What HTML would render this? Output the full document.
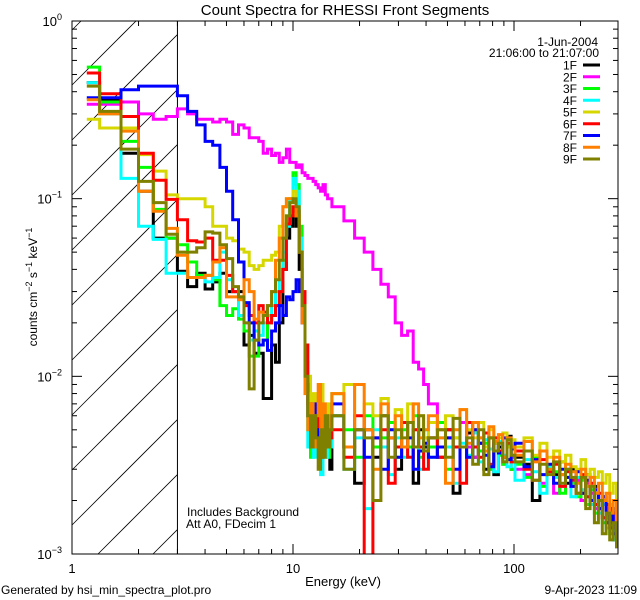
<!DOCTYPE html>
<html><head><meta charset="utf-8"><style>
body{margin:0;background:#fff;overflow:hidden;}
svg{display:block;font-family:"Liberation Sans",sans-serif;}
</style></head><body>
<svg id="chart" width="640" height="600" viewBox="0 0 640 600" xmlns="http://www.w3.org/2000/svg">
<defs><clipPath id="plotclip"><rect x="72" y="21" width="546" height="533"/></clipPath></defs>
<rect width="640" height="600" fill="#fff"/>
<text x="345" y="15" font-size="15" text-anchor="middle">Count Spectra for RHESSI Front Segments</text>
<g id="hatch"></g>
<g id="series" clip-path="url(#plotclip)"></g>
<g id="axes"></g>
<g id="legend"></g>
<text x="187" y="516" font-size="12">Includes Background</text>
<text x="186" y="528" font-size="12">Att A0, FDecim 1</text>
<text x="343" y="586" font-size="13" text-anchor="middle">Energy (keV)</text>
<text transform="translate(37,287) rotate(-90)" font-size="12" text-anchor="middle">counts cm<tspan dy="-5" font-size="9">−2</tspan><tspan dy="5"> s</tspan><tspan dy="-5" font-size="9">−1</tspan><tspan dy="5"> keV</tspan><tspan dy="-5" font-size="9">−1</tspan></text>
<text x="1" y="594" font-size="12">Generated by hsi_min_spectra_plot.pro</text>
<text x="637" y="594" font-size="12" text-anchor="end">9-Apr-2023 11:09</text>
</svg>
<script>
const seriesNames = ["1F","2F","3F","4F","5F","6F","7F","8F","9F"];
const seriesColors = ["#000000","#ff00ff","#00ff00","#00ffff","#d7d700","#ff0000","#0000ff","#ff8000","#808000"];
const xTickValues = [1,10,100];
const xTickLabels = ["1","10","100"];
const yTickExps = [0,-1,-2,-3];
const s1F = [0.45,0.36,0.18,0.11,0.06,0.06,0.039,0.032,0.038,0.031,0.034,0.038,0.03,0.03,0.03,0.015,0.017,0.0135,0.0135,0.0075,0.0075,0.015,0.012,0.02,0.04,0.06,0.07,0.08,0.07,0.04,0.025,0.012,0.008,0.006,0.0045,0.007,0.005,0.003,0.006,0.004,0.005,0.003,
0.006,0.004,0.0025,0.005,0.0035,0.006,0.0045,0.003,0.0055,0.004,0.0025,0.005,0.004,0.0045,0.0035,0.005,0.0022,0.004,0.0048,0.0035,0.0042,0.003,0.0045,0.0028,0.004,0.0035,0.0046,0.003,0.0035,0.0032,0.002,0.0038,0.003,0.0028,0.0033,0.0025,0.003,0.0026,0.0022,0.0028,0.002,0.0024,0.0018,0.0021,0.0015,0.0018,0.0012,0.0015];
const s2F = [0.34,0.34,0.35,0.30,0.28,0.29,0.32,0.30,0.28,0.28,0.27,0.28,0.27,0.23,0.26,0.25,0.22,0.22,0.21,0.18,0.19,0.175,0.18,0.16,0.17,0.19,0.16,0.16,0.15,0.155,0.14,0.135,0.13,0.13,0.125,0.12,0.115,0.11,0.12,0.105,0.10,0.10,
0.09,0.075,0.06,0.05,0.04,0.033,0.028,0.02,0.017,0.018,0.012,0.011,0.009,0.007,0.005,0.0045,0.004,0.0055,0.004,0.0035,0.0045,0.004,0.003,0.0042,0.0038,0.0032,0.004,0.0035,0.003,0.0028,0.0034,0.0025,0.003,0.0022,0.0028,0.003,0.0024,0.0026,0.002,0.0025,0.0022,0.0018,0.002,0.0016,0.0019,0.0014,0.0016,0.0013];
const s3F = [0.55,0.35,0.21,0.15,0.087,0.06,0.055,0.044,0.037,0.037,0.035,0.025,0.022,0.024,0.021,0.018,0.013,0.013,0.015,0.016,0.02,0.022,0.025,0.03,0.045,0.08,0.1,0.14,0.12,0.07,0.03,0.012,0.005,0.0035,0.006,0.004,0.0055,0.003,0.005,0.0045,0.0035,0.006,
0.008,0.005,0.0035,0.006,0.004,0.0045,0.0055,0.0035,0.005,0.004,0.006,0.0035,0.0045,0.004,0.0055,0.003,0.0045,0.004,0.0035,0.005,0.0038,0.0042,0.003,0.0045,0.0036,0.0032,0.0041,0.003,0.0032,0.0027,0.0035,0.0024,0.003,0.0029,0.0022,0.0027,0.0025,0.0021,0.0026,0.0019,0.0023,0.0017,0.002,0.0015,0.0017,0.0013,0.0015,0.0011];
const s4F = [0.45,0.30,0.13,0.07,0.059,0.038,0.038,0.036,0.036,0.034,0.036,0.05,0.035,0.03,0.022,0.02,0.016,0.018,0.017,0.02,0.022,0.025,0.03,0.035,0.05,0.07,0.1,0.13,0.11,0.06,0.03,0.01,0.004,0.006,0.0035,0.005,0.004,0.0028,0.005,0.0035,0.0045,0.004,
0.006,0.003,0.0045,0.0018,0.005,0.004,0.0028,0.0045,0.0035,0.0055,0.004,0.003,0.005,0.0035,0.0045,0.004,0.0025,0.0042,0.0036,0.0048,0.0033,0.0044,0.0039,0.0029,0.0043,0.0036,0.0031,0.004,0.0026,0.0034,0.0029,0.0022,0.0031,0.0027,0.0024,0.003,0.0021,0.0027,0.0023,0.0026,0.0019,0.0022,0.0017,0.0019,0.0014,0.0016,0.0012,0.0014];
const s5F = [0.28,0.25,0.25,0.177,0.143,0.105,0.1,0.1,0.1,0.09,0.07,0.07,0.06,0.058,0.052,0.05,0.042,0.04,0.042,0.045,0.045,0.048,0.05,0.07,0.09,0.1,0.1,0.11,0.08,0.05,0.03,0.015,0.01,0.006,0.008,0.005,0.007,0.009,0.005,0.004,0.007,0.006,
0.008,0.009,0.005,0.007,0.006,0.0075,0.005,0.0065,0.0055,0.007,0.005,0.006,0.0045,0.0055,0.005,0.006,0.0045,0.0065,0.005,0.0045,0.0055,0.004,0.005,0.0042,0.0045,0.0048,0.004,0.0044,0.004,0.0045,0.0036,0.0042,0.0035,0.0038,0.0033,0.0036,0.0031,0.003,0.0034,0.0028,0.003,0.0027,0.0029,0.0025,0.0028,0.0022,0.0025,0.0018];
const s6F = [0.51,0.39,0.29,0.18,0.127,0.099,0.076,0.058,0.057,0.06,0.045,0.045,0.037,0.03,0.028,0.025,0.022,0.02,0.025,0.023,0.02,0.022,0.025,0.03,0.04,0.072,0.08,0.09,0.085,0.05,0.03,0.015,0.007,0.005,0.004,0.006,0.005,0.0035,0.006,0.004,0.005,0.0045,
0.005,0.0035,0.006,0.0009,0.0045,0.005,0.0025,0.004,0.0055,0.0035,0.005,0.004,0.003,0.0045,0.0035,0.005,0.004,0.0025,0.0055,0.004,0.0035,0.0048,0.0032,0.0045,0.0038,0.0035,0.0042,0.0033,0.0038,0.003,0.0026,0.0034,0.0029,0.0032,0.0024,0.0029,0.0026,0.0022,0.0028,0.0021,0.0025,0.0019,0.0022,0.0016,0.0019,0.0014,0.0017,0.0011];
const s7F = [0.37,0.37,0.41,0.43,0.43,0.43,0.38,0.31,0.26,0.21,0.2,0.15,0.11,0.076,0.044,0.026,0.02,0.016,0.015,0.016,0.014,0.018,0.02,0.025,0.022,0.028,0.027,0.03,0.035,0.03,0.02,0.009,0.006,0.005,0.007,0.004,0.005,0.006,0.0045,0.005,0.004,0.0055,
0.007,0.004,0.005,0.0035,0.0045,0.003,0.005,0.0035,0.004,0.0045,0.003,0.0038,0.0042,0.0035,0.004,0.0045,0.003,0.004,0.0035,0.005,0.0042,0.0036,0.0031,0.0043,0.0037,0.0045,0.0034,0.0039,0.0042,0.0031,0.0034,0.0028,0.0032,0.0025,0.003,0.0027,0.0024,0.0029,0.0022,0.0026,0.002,0.0023,0.0018,0.0021,0.0015,0.0018,0.0013,0.0011];
const s8F = [0.36,0.3,0.24,0.11,0.085,0.068,0.048,0.036,0.036,0.037,0.044,0.053,0.028,0.028,0.027,0.035,0.03,0.021,0.023,0.022,0.025,0.03,0.045,0.06,0.09,0.1,0.1,0.095,0.08,0.05,0.02,0.008,0.005,0.007,0.004,0.006,0.009,0.005,0.007,0.004,0.006,0.005,
0.008,0.004,0.009,0.005,0.003,0.007,0.0045,0.006,0.004,0.0055,0.007,0.0045,0.005,0.006,0.0045,0.0025,0.005,0.0065,0.0042,0.0055,0.0045,0.0038,0.0052,0.0043,0.0047,0.0035,0.0045,0.004,0.0036,0.0043,0.0033,0.0038,0.003,0.0035,0.0028,0.0032,0.0029,0.0025,0.003,0.0024,0.0027,0.0022,0.0025,0.002,0.0022,0.0017,0.002,0.0014];
const s9F = [0.43,0.31,0.19,0.125,0.095,0.063,0.05,0.05,0.053,0.065,0.064,0.055,0.046,0.032,0.028,0.02,0.0085,0.016,0.02,0.022,0.025,0.03,0.035,0.045,0.06,0.08,0.095,0.1,0.09,0.05,0.025,0.01,0.006,0.004,0.006,0.0045,0.003,0.005,0.0035,0.006,0.004,0.005,
0.006,0.003,0.005,0.0045,0.002,0.006,0.0035,0.005,0.0045,0.0055,0.004,0.006,0.0038,0.0045,0.005,0.0035,0.0058,0.004,0.0045,0.0032,0.005,0.0028,0.0045,0.0038,0.0042,0.0033,0.0044,0.0036,0.0033,0.0038,0.0026,0.0032,0.0028,0.0033,0.0025,0.003,0.0027,0.0022,0.0027,0.0018,0.0024,0.0015,0.002,0.0013,0.0017,0.0012,0.0015,0.0011];
const seriesValues = [s1F,s2F,s3F,s4F,s5F,s6F,s7F,s8F,s9F];
// energy bin edges (keV): start, then 1/3 keV to 15, 2 keV to 41, 4 keV to 101, 10 keV to 301
const binStart = 7/6;
const binSegments = [[4/3,15,1/3],[17,41,2],[45,101,4],[111,301,10]];

const NS="http://www.w3.org/2000/svg";
const L=72,R=618,T=21,B=554;
const xDec=221, yDec=(B-T)/3;
function X(e){return L+xDec*Math.log10(e);}
function Y(v){return T-yDec*Math.log10(v);}
function mk(tag,attrs,parent){const el=document.createElementNS(NS,tag);for(const k in attrs)el.setAttribute(k,attrs[k]);parent.appendChild(el);return el;}

const edges=[binStart];
binSegments.forEach(s=>{for(let e=s[0];e<=s[1]+1e-6;e+=s[2])edges.push(e);});

const hatch=document.getElementById('hatch');
const hx2=X(3);
for(let c=-25;c<=800;c+=55){
  const xs=Math.max(L, L+c-B), xe=Math.min(hx2, L+c-T);
  if(xe<=xs) continue;
  const ln=mk('line',{x1:xs,y1:c-(xs-L),x2:xe,y2:c-(xe-L),stroke:'#000','stroke-width':0.8},hatch);
  
  
}
const hb=mk('line',{x1:hx2,y1:T,x2:hx2,y2:B,stroke:'#000','stroke-width':1},hatch);



const sg=document.getElementById('series');
function cy(v){return Math.min(B+2,Y(v));}
seriesValues.forEach((vals,si)=>{
  let d='M'+X(edges[0]).toFixed(1)+' '+cy(vals[0]).toFixed(1);
  for(let i=0;i<vals.length;i++){
    d+=' H'+Math.min(R,X(edges[i+1])).toFixed(1);
    if(i+1<vals.length)d+=' V'+cy(vals[i+1]).toFixed(1);
  }
  const p=mk('path',{d:d,fill:'none',stroke:seriesColors[si],'stroke-width':3,'stroke-linejoin':'miter'},sg);
  
  
});

const ax=document.getElementById('axes');
const frame=mk('rect',{x:L,y:T,width:R-L,height:B-T,fill:'none',stroke:'#000','stroke-width':1},ax);


for(let dec=0;dec<3;dec++){
  for(let m=1;m<10;m++){
    const e=m*Math.pow(10,dec); const x=X(e); if(x>R)break;
    const len=m===1?10:5;
    mk('line',{x1:x,y1:B,x2:x,y2:B-len,stroke:'#000'},ax);
    mk('line',{x1:x,y1:T,x2:x,y2:T+len,stroke:'#000'},ax);
  }
}
xTickValues.forEach((v,i)=>{
  const t=mk('text',{x:X(v),y:573,'font-size':13,'text-anchor':'middle'},ax);
  t.textContent=xTickLabels[i];
  
  
});
yTickExps.forEach(ex=>{
  const yy=Y(Math.pow(10,ex));
  if(ex>-3){for(let m=1;m<10;m++){
    const y=Y(m*Math.pow(10,ex-1)); const len=m===1?10:5;
    mk('line',{x1:L,y1:y,x2:L+len,y2:y,stroke:'#000'},ax);
    mk('line',{x1:R,y1:y,x2:R-len,y2:y,stroke:'#000'},ax);
  }}
  const t=mk('text',{x:62,y:yy+5,'font-size':13,'text-anchor':'end'},ax);
  t.textContent='10';
  const sup=mk('tspan',{dy:-6,'font-size':9},t);
  sup.textContent=ex===0?'0':'−'+(-ex);
  
  
});

const lg=document.getElementById('legend');
const d1=mk('text',{x:598,y:46,'font-size':12,'text-anchor':'end'},lg);
d1.textContent='1-Jun-2004';


const d2=mk('text',{x:599,y:57,'font-size':12,'text-anchor':'end'},lg);
d2.textContent='21:06:00 to 21:07:00';


seriesNames.forEach((n,i)=>{
  const y=65+i*11.75;
  const g=mk('g',{},lg);
  
  
  const t=mk('text',{x:577,y:y+4.5,'font-size':12,'text-anchor':'end'},g);
  t.textContent=n;
  mk('line',{x1:583,y1:y,x2:600,y2:y,stroke:seriesColors[i],'stroke-width':3},g);
});
</script>
</body></html>
